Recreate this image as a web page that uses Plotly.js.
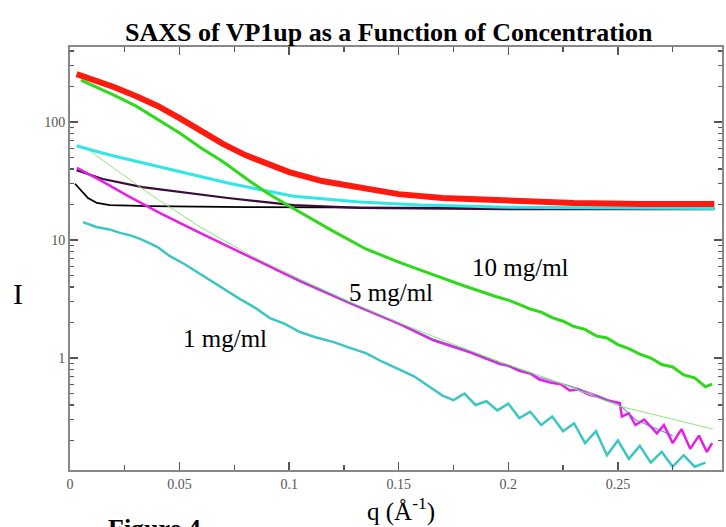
<!DOCTYPE html>
<html>
<head>
<meta charset="utf-8">
<script src="https://cdn.plot.ly/plotly-3.0.1.min.js"></script>
<style>html,body{margin:0;padding:0;background:#fff;}#chart{width:726px;height:527px;}</style>
</head>
<body>
<div id="chart"></div>
<script>
// ---- data ----
const qRed = [0.003,0.010,0.020,0.030,0.040,0.050,0.060,0.070,0.080,0.090,0.100,0.115,0.130,0.150,0.170,0.200,0.230,0.260,0.294];
const iRed = [255,231,198,166,137,108,84,65,52.5,44,37.7,31.6,28.1,24.5,22.7,21.4,20.6,20.2,20.2];

const qGreen = [0.005,0.010,0.020,0.030,0.040,0.050,0.060,0.070,0.080,0.090,0.100,0.110,0.120,0.135,0.150,0.165,0.180,0.195,0.200,0.205,0.210,0.215,0.220,0.225,0.230,0.235,0.240,0.245,0.250,0.255,0.260,0.265,0.270,0.275,0.280,0.285,0.290,0.293];
const iGreen = [227,206,169,137,106,80.7,60,45.8,33.5,25,19.4,15.1,11.9,8.4,6.5,5.15,4.08,3.29,3.1,2.85,2.6,2.45,2.2,2.05,1.85,1.75,1.54,1.48,1.3,1.2,1.08,1.0,0.88,0.84,0.72,0.68,0.57,0.6];

const qCyan = [0.003,0.010,0.020,0.033,0.050,0.072,0.090,0.102,0.132,0.160,0.200,0.250,0.294];
const iCyan = [63,57.6,51.5,45,37.7,30.4,26,23.5,21,19.8,19.0,18.6,18.5];

const qPurple = [0.003,0.015,0.033,0.050,0.072,0.102,0.132,0.200,0.294];
const iPurple = [39,32.9,28.1,25.5,22.7,19.8,18.7,18.3,18.3];

const qBlack = [0.0023,0.0046,0.0082,0.0123,0.0182,0.0365,0.080,0.150,0.294];
const iBlack = [30,26.8,22.7,20.6,19.8,19.4,19.0,18.8,18.6];

const qMagenta = [0.0032,0.0137,0.0274,0.0411,0.0593,0.0821,0.1049,0.1277,0.1505,0.1656,0.1825,0.1962,0.200,0.205,0.210,0.214,0.219,0.224,0.228,0.232,0.2372,0.241,0.245,0.2509,0.2518,0.255,0.258,0.262,0.2678,0.271,0.275,0.279,0.283,0.287,0.2906,0.293];
const iMagenta = [40.8,32.2,23.1,16.9,11.5,7.18,4.49,2.92,1.94,1.42,1.12,0.89,0.86,0.78,0.74,0.66,0.62,0.60,0.53,0.54,0.485,0.47,0.44,0.416,0.32,0.34,0.27,0.30,0.23,0.27,0.19,0.25,0.17,0.22,0.16,0.19];

const qViolet = [0.100,0.1277,0.1505,0.1656,0.1825,0.1962,0.205,0.214,0.224,0.232,0.241,0.2509,0.258,0.2678,0.275];
const iViolet = [5.0,2.95,1.97,1.45,1.14,0.9,0.8,0.69,0.61,0.55,0.48,0.40,0.30,0.25,0.22];

const qFit = [0.0091,0.0137,0.0365,0.0593,0.0821,0.1049,0.1277,0.1505,0.1734,0.1962,0.219,0.2509,0.2933];
const iFit = [56.8,49.4,24.5,12.9,7.46,4.67,3.0,1.98,1.34,0.93,0.66,0.39,0.25];

const qTeal = [0.0059,0.012,0.018,0.0228,0.028,0.0333,0.040,0.0456,0.052,0.0593,0.068,0.0776,0.084,0.0912,0.098,0.1049,0.112,0.120,0.1277,0.135,0.1425,0.1505,0.157,0.1635,0.170,0.175,0.180,0.185,0.190,0.195,0.200,0.205,0.210,0.215,0.220,0.225,0.230,0.235,0.240,0.245,0.250,0.255,0.260,0.265,0.270,0.275,0.280,0.285,0.290];
const iTeal = [14.2,12.9,12.3,11.5,10.9,10.0,8.7,7.3,6.3,5.15,4.1,3.16,2.7,2.18,1.95,1.66,1.50,1.37,1.22,1.10,0.93,0.79,0.70,0.58,0.48,0.44,0.50,0.40,0.43,0.36,0.41,0.31,0.35,0.27,0.32,0.24,0.28,0.19,0.24,0.15,0.20,0.14,0.18,0.13,0.16,0.12,0.15,0.12,0.13];

const xTickVals = [0,0.05,0.1,0.15,0.2,0.25];
const xTickText = ["0","0.05","0.1","0.15","0.2","0.25"];
const yTickVals = [1,10,100];
const yTickText = ["1","10","100"];

// minor log ticks (2..9 in each decade)
const yMinor = [];
[0.1,1,10,100].forEach(d => { for (let k = 2; k <= 9; k++) { const v = d*k; if (v > 0.11 && v < 433) yMinor.push(v); } });

function line(q, I, color, width, opacity) {
  return {x: q, y: I, type: 'scatter', mode: 'lines', line: {color: color, width: width, shape: 'linear'}, opacity: opacity || 1, hoverinfo: 'skip', showlegend: false};
}

const traces = [
  line(qBlack, iBlack, '#000000', 1.8),
  line(qPurple, iPurple, '#3a0a3a', 2.2),
  line(qCyan, iCyan, '#30e6e6', 3),
  line(qRed, iRed, '#ff1a10', 6),
  line(qGreen, iGreen, '#2ed81a', 3),
  line(qTeal, iTeal, '#3cc6c0', 2.5),
  line(qMagenta, iMagenta, '#e81ee8', 2.5),
  line(qViolet, iViolet, '#7a66d0', 1.2, 0.8),
  line(qFit, iFit, '#8ee67a', 1)
];

const serif = 'Liberation Serif, Times New Roman, serif';
const L = 70, R = 4, T = 47, B = 57, W = 726, H = 527;
const pw = W - L - R, ph = H - T - B;
const px = x => (x - L) / pw;
const py = y => (H - B - y) / ph;

const layout = {
  width: W, height: H,
  margin: {l: L, r: R, t: T, b: B, pad: 0},
  paper_bgcolor: '#ffffff', plot_bgcolor: '#ffffff',
  showlegend: false,
  xaxis: {
    range: [0, 0.2975], tickvals: xTickVals, ticktext: xTickText,
    ticks: 'inside', ticklen: 8, tickwidth: 1.5, tickcolor: '#555',
    showline: true, linecolor: '#888', linewidth: 2, mirror: 'ticks',
    showgrid: false, zeroline: false,
    minor: {tickvals: [0.025,0.075,0.125,0.175,0.225,0.275], ticks: 'inside', ticklen: 5, tickwidth: 1.3, tickcolor: '#555', showgrid: false},
    tickfont: {family: serif, size: 14, color: '#555'}
  },
  yaxis: {
    type: 'log', range: [-0.949, 2.636], tickvals: yTickVals, ticktext: yTickText,
    ticks: 'inside', ticklen: 8, tickwidth: 1.5, tickcolor: '#555',
    showline: true, linecolor: '#888', linewidth: 2, mirror: 'ticks',
    showgrid: false, zeroline: false,
    minor: {tickvals: yMinor, ticks: 'inside', ticklen: 4, tickwidth: 1.3, tickcolor: '#555', showgrid: false},
    tickfont: {family: serif, size: 14, color: '#555'}
  },
  annotations: [
    {text: '<b>SAXS of VP1up as a Function of Concentration</b>', xref: 'paper', yref: 'paper', x: px(389), y: py(32), xanchor: 'center', yanchor: 'middle', showarrow: false, font: {family: serif, size: 26, color: '#000'}},
    {text: '10 mg/ml', xref: 'paper', yref: 'paper', x: px(520), y: py(267), xanchor: 'center', yanchor: 'middle', showarrow: false, font: {family: serif, size: 25, color: '#000'}},
    {text: '5 mg/ml', xref: 'paper', yref: 'paper', x: px(391), y: py(292), xanchor: 'center', yanchor: 'middle', showarrow: false, font: {family: serif, size: 25, color: '#000'}},
    {text: '1 mg/ml', xref: 'paper', yref: 'paper', x: px(225), y: py(338), xanchor: 'center', yanchor: 'middle', showarrow: false, font: {family: serif, size: 25, color: '#000'}},
    {text: 'I', xref: 'paper', yref: 'paper', x: px(18), y: py(293), xanchor: 'center', yanchor: 'middle', showarrow: false, font: {family: serif, size: 30, color: '#000'}},
    {text: 'q (Å<sup>-1</sup>)', xref: 'paper', yref: 'paper', x: px(401), y: py(510), xanchor: 'center', yanchor: 'middle', showarrow: false, font: {family: serif, size: 25, color: '#000'}},
    {text: '<b>Figure 4</b>', xref: 'paper', yref: 'paper', x: px(106), y: py(512), xanchor: 'left', yanchor: 'top', showarrow: false, font: {family: serif, size: 26, color: '#000'}}
  ]
};

Plotly.newPlot('chart', traces, layout, {staticPlot: true, displayModeBar: false});
</script>
</body>
</html>
